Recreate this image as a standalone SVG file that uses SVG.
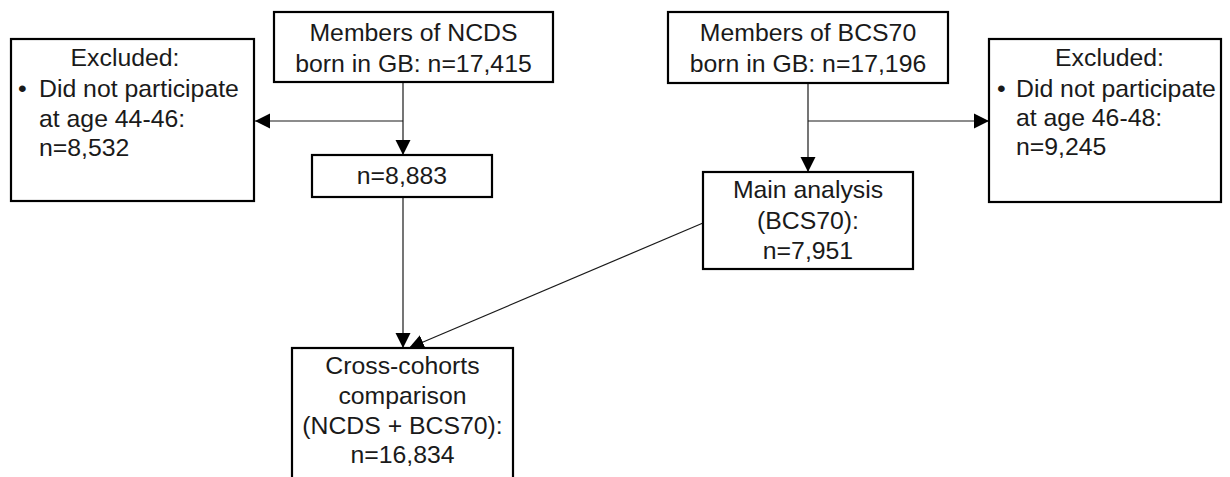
<svg xmlns="http://www.w3.org/2000/svg" width="1230" height="477" viewBox="0 0 1230 477">
<style>
.box{fill:#fff;stroke:#000;stroke-width:2.2}
.t{font-family:"Liberation Sans",Arial,sans-serif;font-size:24.8px;fill:#1a1a1a}
.c{text-anchor:middle}
.ln{fill:none;stroke:#1a1a1a;stroke-width:1.2}
</style>
<defs>
<marker id="ah" markerUnits="userSpaceOnUse" markerWidth="16" markerHeight="16" viewBox="0 0 16 16" refX="15" refY="8" orient="auto">
<path d="M0,0.5 L15,8 L0,15.5 Z" fill="#000"/>
</marker>
</defs>
<rect width="1230" height="477" fill="#fff"/>
<g id="connectors">
<line class="ln" x1="403" y1="83" x2="403" y2="155" marker-end="url(#ah)"/>
<line class="ln" x1="403" y1="121" x2="255" y2="121" marker-end="url(#ah)"/>
<line class="ln" x1="403" y1="197" x2="403" y2="348" marker-end="url(#ah)"/>
<line class="ln" x1="808" y1="83" x2="808" y2="172" marker-end="url(#ah)"/>
<line class="ln" x1="808" y1="121" x2="989" y2="121" marker-end="url(#ah)"/>
<line class="ln" x1="703" y1="223" x2="409" y2="348" marker-end="url(#ah)"/>
</g>
<g id="ncds">
<rect class="box" x="274" y="12" width="279" height="70"/>
<text class="t c" x="413.5" y="40.5">Members of NCDS</text>
<text class="t c" x="413.5" y="71.5">born in GB: n=17,415</text>
</g>
<g id="bcs70">
<rect class="box" x="668" y="12" width="280" height="71"/>
<text class="t c" x="808" y="40.5">Members of BCS70</text>
<text class="t c" x="808" y="71.5">born in GB: n=17,196</text>
</g>
<g id="excluded-ncds">
<rect class="box" x="11" y="39" width="243" height="162"/>
<text class="t c" x="125" y="65.5">Excluded:</text>
<text class="t" x="18" y="97">•</text>
<text class="t" x="39" y="97">Did not participate</text>
<text class="t" x="39" y="127">at age 44-46:</text>
<text class="t" x="39" y="156">n=8,532</text>
</g>
<g id="excluded-bcs70">
<rect class="box" x="989" y="39" width="232" height="163"/>
<text class="t c" x="1109.5" y="66">Excluded:</text>
<text class="t" x="997" y="97">•</text>
<text class="t" x="1016" y="97">Did not participate</text>
<text class="t" x="1016" y="126">at age 46-48:</text>
<text class="t" x="1016" y="155">n=9,245</text>
</g>
<g id="ncds-n">
<rect class="box" x="312" y="155" width="180" height="42"/>
<text class="t c" x="402" y="184">n=8,883</text>
</g>
<g id="main-analysis">
<rect class="box" x="703" y="172" width="210" height="97"/>
<text class="t c" x="808" y="198">Main analysis</text>
<text class="t c" x="808" y="229">(BCS70):</text>
<text class="t c" x="808" y="259">n=7,951</text>
</g>
<g id="cross-cohorts">
<rect class="box" x="292" y="348" width="221" height="140"/>
<text class="t c" x="402.5" y="374">Cross-cohorts</text>
<text class="t c" x="402.5" y="404">comparison</text>
<text class="t c" x="402.5" y="434">(NCDS + BCS70):</text>
<text class="t c" x="402.5" y="463">n=16,834</text>
</g>
</svg>
